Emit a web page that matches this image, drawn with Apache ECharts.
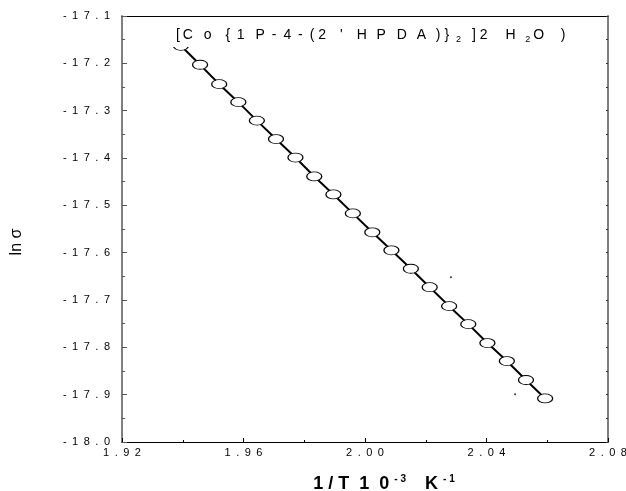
<!DOCTYPE html>
<html>
<head>
<meta charset="utf-8">
<script src="https://cdn.jsdelivr.net/npm/echarts@6/dist/echarts.min.js"></script>
<style>
html,body{margin:0;padding:0;background:#fff;overflow:hidden;}
#c{width:626px;height:491px;}
</style>
</head>
<body>
<div id="c"></div>
<script>
// Data
var invT = [1.9394, 1.9457, 1.9520, 1.9583, 1.9644, 1.9707, 1.9771, 1.9833, 1.9896, 1.9960,
            2.0024, 2.0087, 2.0151, 2.0213, 2.0277, 2.0340, 2.0403, 2.0467, 2.0530, 2.0593];
var lnSigma = [-17.163, -17.203, -17.244, -17.282, -17.321, -17.360, -17.399, -17.439, -17.477, -17.517,
               -17.557, -17.595, -17.634, -17.673, -17.713, -17.751, -17.791, -17.829, -17.869, -17.908];
var strayX = [2.0283, 2.0494];
var strayY = [-17.652, -17.899];
var xTicks = [1.92, 1.96, 2.00, 2.04, 2.08];
var yTicks = [-18.0, -17.9, -17.8, -17.7, -17.6, -17.5, -17.4, -17.3, -17.2, -17.1];
var titleParts = ['[', 'C', 'o', '{', '1', 'P', '-', '4', '-', '(', '2', '\'', 'H', 'P', 'D', 'A', ')', '}',
                  '{s|2}', ']', '2', 'H', '{s|2}', 'O', ')'];

var SP = '\u2002';
function spaced(s) { return s.split('').join(SP); }

// gap (px) after each title part, for the wide letter-spacing look
var titleGaps = [2, 12, 14, 6, 11, 8, 7, 6, 7, 5, 14, 14, 10, 11, 10, 9, 4, 7, 10.5, 4, 18, 8.5, 2, 17, 0];
function spaceOf(px) {
  var s = '';
  while (px >= 14) { s += '\u2003'; px -= 14; }
  while (px >= 7) { s += '\u2002'; px -= 7; }
  while (px >= 3.5) { s += ' '; px -= 3.9; }
  while (px >= 1.5) { s += '\u2009'; px -= 2.8; }
  return s;
}
var titleText = titleParts.map(function (p, i) { return p + spaceOf(titleGaps[i]); }).join('');

var pts = invT.map(function (x, i) { return [x, lnSigma[i]]; });
var stray = strayX.map(function (x, i) { return [x, strayY[i]]; });

var chart = echarts.init(document.getElementById('c'), null, {renderer: 'canvas'});
var FONT = 'Liberation Sans, Arial, sans-serif';
chart.setOption({
  backgroundColor: '#fff',
  animation: false,
  title: {
    text: titleText,
    left: 173,
    top: 25,
    padding: [2, 3, 3, 3],
    backgroundColor: '#fff',
    textStyle: {
      fontFamily: FONT, fontSize: 14, fontWeight: 'normal', color: '#000', lineHeight: 17,
      rich: {
        s: {fontFamily: FONT, fontSize: 9, color: '#000', lineHeight: 9, verticalAlign: 'bottom'}
      }
    },
    z: 10
  },
  grid: {left: 122, right: 18, top: 16, bottom: 49, containLabel: false, outerBoundsMode: 'none'},
  xAxis: [{
    type: 'value', min: 1.92, max: 2.08, interval: 0.04, position: 'bottom',
    name: '{b|1 / T  1  0}{p|- 3}{b|   K}{p|- 1}',
    nameLocation: 'middle', nameGap: 32,
    nameTextStyle: {
      padding: [0, 0, 0, 42],
      rich: {
        b: {fontFamily: FONT, fontSize: 18, fontWeight: 'bold', color: '#000', lineHeight: 20},
        p: {fontFamily: FONT, fontSize: 10, fontWeight: 'bold', color: '#000', lineHeight: 10, verticalAlign: 'top', padding: [0, 4, 0, 5]}
      }
    },
    axisLine: {show: true, lineStyle: {color: '#000', width: 1}},
    axisTick: {show: true, inside: true, length: 4, lineStyle: {color: '#000'}},
    minorTick: {show: true, splitNumber: 2, length: 2, lineStyle: {color: '#000'}},
    splitLine: {show: false},
    axisLabel: {
      margin: 5, fontFamily: FONT, fontSize: 11, color: '#000',
      formatter: function (v) { return spaced(v.toFixed(2)); }
    }
  }, {
    type: 'value', min: 1.92, max: 2.08, position: 'top',
    axisLine: {show: true, lineStyle: {color: '#000', width: 1}},
    axisTick: {show: false}, axisLabel: {show: false}, splitLine: {show: false}
  }],
  yAxis: [{
    type: 'value', min: -18.0, max: -17.1, interval: 0.1, position: 'left',
    name: 'ln σ', nameLocation: 'middle', nameGap: 97, nameRotate: 90,
    nameTextStyle: {fontFamily: FONT, fontSize: 16, color: '#000', padding: [0, 26, 0, 0]},
    axisLine: {show: true, lineStyle: {color: '#808080', width: 2}},
    axisTick: {show: true, inside: true, length: 5, lineStyle: {color: '#555'}},
    minorTick: {show: true, splitNumber: 2, length: 3, lineStyle: {color: '#555'}},
    splitLine: {show: false},
    axisLabel: {
      margin: 12, fontFamily: FONT, fontSize: 11, color: '#000',
      formatter: function (v) { return spaced(v.toFixed(1)); }
    }
  }, {
    type: 'value', min: -18.0, max: -17.1, interval: 0.1, position: 'right',
    axisLine: {show: true, lineStyle: {color: '#808080', width: 2}},
    axisTick: {show: true, inside: true, length: 2, lineStyle: {color: '#333'}},
    minorTick: {show: true, splitNumber: 2, length: 2, lineStyle: {color: '#333'}},
    axisLabel: {show: false}, splitLine: {show: false}
  }],
  series: [{
    type: 'line',
    data: pts,
    xAxisIndex: 0, yAxisIndex: 0,
    symbol: 'circle', symbolSize: [15, 9],
    showAllSymbol: true,
    itemStyle: {color: '#fff', borderColor: '#000', borderWidth: 1},
    lineStyle: {color: '#000', width: 2},
    z: 3
  }, {
    type: 'scatter',
    data: stray,
    symbol: 'circle', symbolSize: 2,
    itemStyle: {color: '#000'},
    z: 2
  }]
});
</script>
</body>
</html>
